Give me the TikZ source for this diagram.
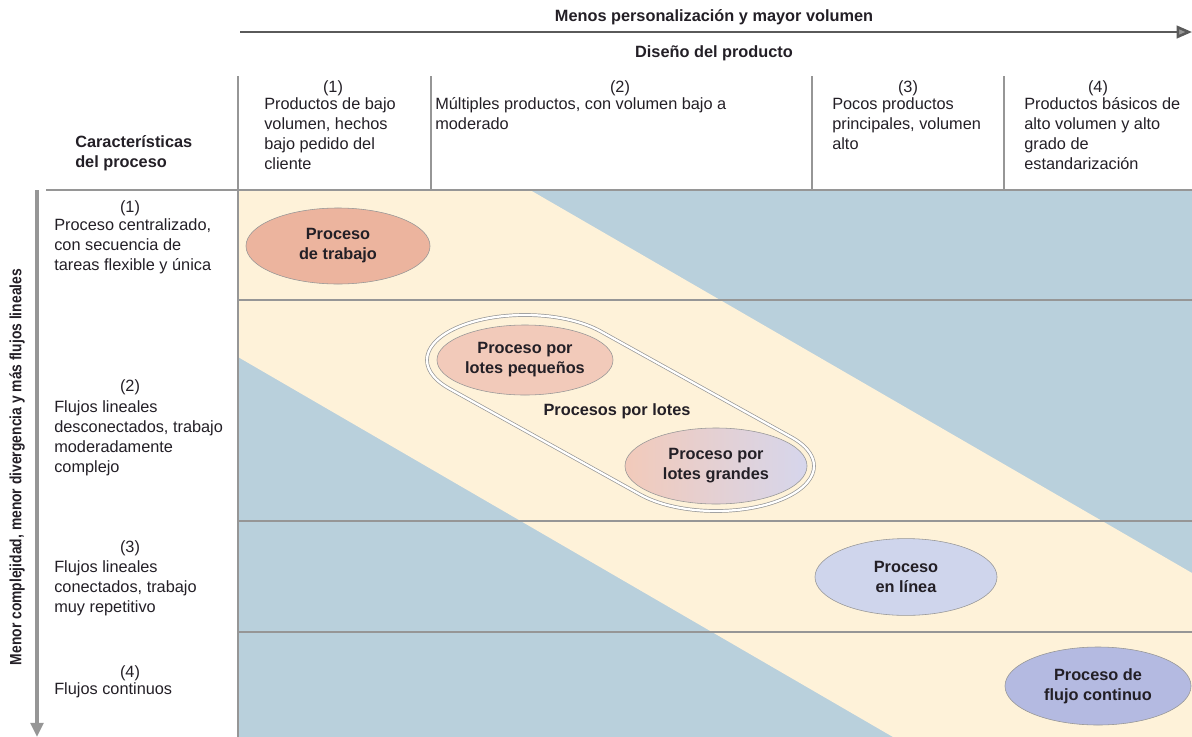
\documentclass[tikz,border=0pt]{standalone}
\usepackage{fontspec}
\setmainfont{Liberation Sans}
\usetikzlibrary{arrows.meta,positioning,shapes.geometric,calc}
\definecolor{ink}{RGB}{35,31,38}
\definecolor{rulegray}{RGB}{150,150,150}
\definecolor{axisgray}{RGB}{90,90,90}
\definecolor{cream}{RGB}{254,242,217}
\definecolor{steel}{RGB}{185,208,220}
\definecolor{salmon}{RGB}{236,180,158}
\definecolor{salmonlt}{RGB}{242,202,186}
\definecolor{lilac}{RGB}{214,214,236}
\definecolor{lavender}{RGB}{207,213,236}
\definecolor{periwinkle}{RGB}{180,186,225}
\newcommand{\txtsize}{\fontsize{11.6}{14.2}\selectfont}

\begin{document}
\begin{tikzpicture}[x=0.025cm, y=0.025cm,
  txt/.style={font=\txtsize, text=ink, inner sep=0pt, align=left},
  head/.style={txt, font=\txtsize\bfseries},
  proc/.style={ellipse, draw=rulegray, inner sep=0pt, align=center,
    text=ink, font=\txtsize\bfseries},
  gridline/.style={draw=rulegray, line width=0.9pt}]
\useasboundingbox (0,0) rectangle (1192,-737);
\fill[steel] (238,-190) rectangle (1192,-737);
\fill[cream] (238,-190) -- (530,-190) -- (1192,-573) -- (1192,-737)
  -- (893,-737) -- (238,-357) -- cycle;
\draw[gridline] (46,-190) -- (1192,-190);
\foreach \y in {300,521,632} \draw[gridline] (238,-\y) -- (1192,-\y);
\draw[gridline] (238,-76) -- (238,-737);
\foreach \x in {431,812,1004} \draw[gridline] (\x,-76) -- (\x,-190);

\coordinate (hx0) at (240,-32);
\coordinate (hx1) at (1192,-32);
\coordinate (vy0) at (37,-190);
\coordinate (vy1) at (37,-737);
\draw[axisgray, line width=1.8pt, -{Triangle[length=11pt,width=9pt,fill=rulegray]}] (hx0) -- (hx1);
\draw[rulegray, line width=2.8pt, -{Triangle[length=10pt,width=9pt]}] (vy0) -- (vy1);

\node[head] (axis) at (714,-17) {Menos personalización y mayor volumen};
\node[head] (design) at (714,-53) {Diseño del producto};
\node[head, rotate=90] (depth) at (17,-467)
  {\scalebox{0.85}[1]{Menor complejidad, menor divergencia y más flujos lineales}};
\node[head, anchor=north west] (charac) at (75,-135) {Características\\del proceso};

\node[txt] (c1n) at (333,-88) {(1)};
\node[txt] (c2n) at (620,-88) {(2)};
\node[txt] (c3n) at (908,-88) {(3)};
\node[txt] (c4n) at (1098,-88) {(4)};
\node[txt, anchor=north west] (c1) at (264,-97)
  {Productos de bajo\\volumen, hechos\\bajo pedido del\\cliente};
\node[txt, anchor=north west] (c2) at (435,-97)
  {Múltiples productos, con volumen bajo a\\moderado};
\node[txt, anchor=north west] (c3) at (832,-97)
  {Pocos productos\\principales, volumen\\alto};
\node[txt, anchor=north west] (c4) at (1024,-97)
  {Productos básicos de\\alto volumen y alto\\grado de\\estandarización};

\node[txt] (r1n) at (130,-208) {(1)};
\node[txt, anchor=north west] (r1) at (54,-218)
  {Proceso centralizado,\\con secuencia de\\tareas flexible y única};
\node[txt] (r2n) at (130,-387) {(2)};
\node[txt, anchor=north west] (r2) at (54,-400)
  {Flujos lineales\\desconectados, trabajo\\moderadamente\\complejo};
\node[txt] (r3n) at (130,-548) {(3)};
\node[txt, anchor=north west] (r3) at (54,-560)
  {Flujos lineales\\conectados, trabajo\\muy repetitivo};
\node[txt] (r4n) at (130,-673) {(4)};
\node[txt, anchor=north west] (r4) at (54,-682) {Flujos continuos};

\node[proc, fill=salmon, minimum width=4.6cm, minimum height=1.9cm]
  (job) at (338,-246) {Proceso\\de trabajo};
\node[proc, fill=salmonlt, minimum width=4.4cm, minimum height=1.75cm]
  (small) at (525,-360) {Proceso por\\lotes pequeños};
\node[proc, left color=salmonlt, right color=lilac, minimum width=4.55cm,
  minimum height=1.9cm] (large) at (716,-466) {Proceso por\\lotes grandes};
\node[proc, fill=lavender, minimum width=4.55cm, minimum height=1.92cm]
  (line) at (906,-577) {Proceso\\en línea};
\node[proc, fill=periwinkle, minimum width=4.65cm, minimum height=1.95cm]
  (flow) at (1098,-686) {Proceso de\\flujo continuo};

\draw[rulegray, line width=0.5pt, double=white, double distance=1.6pt]
  ($(small)+(39.6:2.45cm and 1.125cm)$)
  arc[start angle=39.6, end angle=219.6, x radius=2.45cm, y radius=1.125cm]
  -- ($(large)+(219.6:2.45cm and 1.125cm)$)
  arc[start angle=219.6, end angle=399.6, x radius=2.45cm, y radius=1.125cm]
  -- cycle;
\node[head] (batch) at (617,-411) {Procesos por lotes};
\end{tikzpicture}
\end{document}
